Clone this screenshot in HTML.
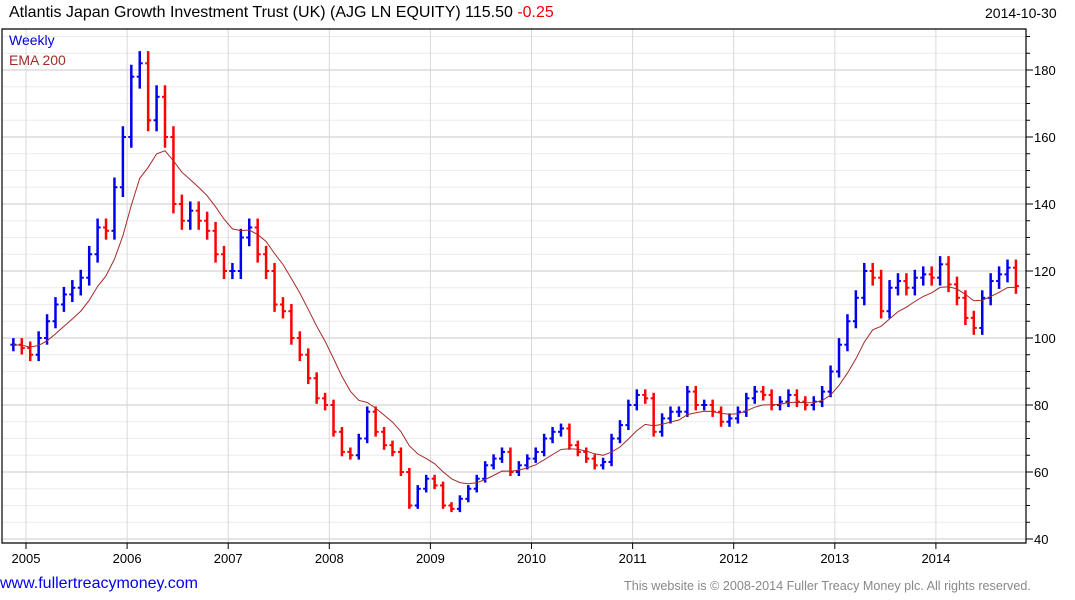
<!DOCTYPE html>
<html><head><meta charset="utf-8">
<style>
body{margin:0;background:#fff;font-family:"Liberation Sans",sans-serif;}
#wrap{position:relative;width:1075px;height:600px;overflow:hidden;}
.t{position:absolute;white-space:nowrap;}
</style></head>
<body>
<div id="wrap">
<div class="t" style="left:9px;top:4px;font-size:16px;color:#000">Atlantis Japan Growth Investment Trust (UK) (AJG LN EQUITY) 115.50 <span style="color:#e00">-0.25</span></div>
<div class="t" style="left:985px;top:5px;font-size:14px;color:#000">2014-10-30</div>
<svg id="svg" width="1075" height="600" style="position:absolute;left:0;top:0"></svg>
<div class="t" style="left:9px;top:32px;font-size:14px;color:#0000dd">Weekly</div>
<div class="t" style="left:9px;top:52px;font-size:14px;color:#a52a2a">EMA 200</div>
<div class="t" style="left:0px;top:575px;font-size:16px;color:#0000ee">www.fullertreacymoney.com</div>
<div class="t" style="left:624px;top:579px;font-size:12.6px;color:#888">This website is © 2008-2014 Fuller Treacy Money plc. All rights reserved.</div>
</div>
<script>
const years=[2005,2006,2007,2008,2009,2010,2011,2012,2013,2014];
const yTicks=[40,60,80,100,120,140,160,180];
// monthly closes Nov 2004 .. Oct 2014
const closes=[98,97,
95,100,105,110,113,115,118,125,133,132,145,160,
178,182,165,172,160,140,135,138,135,132,125,120,
120,130,133,125,120,110,108,100,95,88,82,80,
72,66,65,70,78,72,68,66,60,50,55,58,
56,50,49,52,55,58,62,64,66,60,62,64,
66,70,72,73,68,66,64,62,63,70,74,80,
83,82,72,76,78,78,84,80,80,78,75,76,
78,82,84,83,80,81,83,81,80,81,84,90,
98,105,112,120,118,108,115,117,115,118,119,118,
122,116,112,106,103,112,117,119,121,115.5];
const startYear=2004, startMonth=10; // Nov 2004 (0-based month)
const svg=document.getElementById('svg');
const NS='http://www.w3.org/2000/svg';
const L=2,R=1026,T=29,B=543;
function xOf(yearFrac){return 26+(yearFrac-2005)*101.1;}
function yOf(v){return 539-(v-40)*(469/140);}
function mk(tag,a){const e=document.createElementNS(NS,tag);for(const k in a)e.setAttribute(k,a[k]);svg.appendChild(e);return e;}
for(let v=40;v<=190;v+=5){if(v%20===0)continue;const y=yOf(v);if(y<T||y>B)continue;
const g=mk('line',{x1:L,x2:R,y1:y,y2:y,stroke:'#ececec','stroke-width':1});


const tk=mk('line',{x1:R,x2:R+4,y1:y,y2:y,stroke:'#000'});

}
yTicks.forEach(v=>{const y=yOf(v);
const g=mk('line',{x1:L,x2:R,y1:y,y2:y,stroke:'#c8c8c8','stroke-width':1});


const tk=mk('line',{x1:R,x2:R+7,y1:y,y2:y,stroke:'#000'});


const t=mk('text',{x:1034,y:y+5,'font-size':13,'font-family':'Liberation Sans,sans-serif',fill:'#000'});
t.textContent=v;

});
years.forEach(yr=>{const x=xOf(yr);
const g=mk('line',{x1:x,x2:x,y1:T,y2:B,stroke:'#d8d8d8','stroke-width':1});


const tk=mk('line',{x1:x,x2:x,y1:B,y2:B+6,stroke:'#000'});


const t=mk('text',{x:x,y:563,'font-size':13,'text-anchor':'middle','font-family':'Liberation Sans,sans-serif',fill:'#000'});
t.textContent=yr;

});
const fr=mk('path',{d:`M${L} ${T}H${R}V${B}H${L}Z`,fill:'none',stroke:'#000','stroke-width':1.2});


const alpha=2/(9.5+1);let ema=closes[0];const emaPts=[];
closes.forEach((c,i)=>{
  const o=i===0?c:closes[i-1];
  const m=startMonth+i;const yf=startYear+Math.floor(m/12)+((m%12)+0.5)/12;
  const x=xOf(yf);
  const hi=Math.max(o,c)*1.02, lo=Math.min(o,c)*0.98;
  const col=c>=o?'#0000ee':'#ff0000';
  const g=mk('g',{});
  
  
  const l=document.createElementNS(NS,'line');
  l.setAttribute('x1',x);l.setAttribute('x2',x);l.setAttribute('y1',yOf(hi));l.setAttribute('y2',yOf(lo));
  l.setAttribute('stroke',col);l.setAttribute('stroke-width',2.5);g.appendChild(l);
  const lo2=document.createElementNS(NS,'line');
  lo2.setAttribute('x1',x-3);lo2.setAttribute('x2',x);lo2.setAttribute('y1',yOf(o));lo2.setAttribute('y2',yOf(o));
  lo2.setAttribute('stroke',col);lo2.setAttribute('stroke-width',2);g.appendChild(lo2);
  const lc=document.createElementNS(NS,'line');
  lc.setAttribute('x1',x);lc.setAttribute('x2',x+3);lc.setAttribute('y1',yOf(c));lc.setAttribute('y2',yOf(c));
  lc.setAttribute('stroke',col);lc.setAttribute('stroke-width',2);g.appendChild(lc);
  ema=i===0?c:alpha*c+(1-alpha)*ema;
  emaPts.push(x.toFixed(1)+','+yOf(ema).toFixed(1));
});
const el=mk('polyline',{points:emaPts.join(' '),fill:'none',stroke:'#a52a2a','stroke-width':1});


</script>
</body></html>
